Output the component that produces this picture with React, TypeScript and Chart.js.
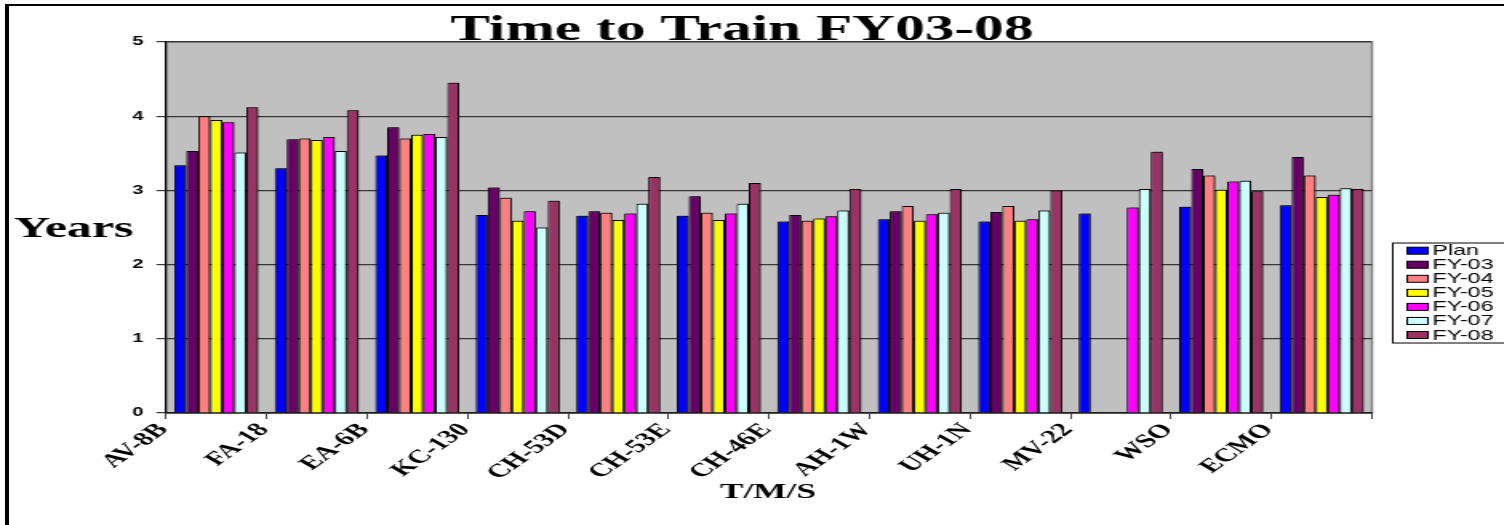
import React, { useEffect, useRef } from "react";
import { Chart, registerables } from "chart.js";

Chart.register(...registerables);

const categories = ["AV-8B", "FA-18", "EA-6B", "KC-130", "CH-53D", "CH-53E", "CH-46E", "AH-1W", "UH-1N", "MV-22", "WSO", "ECMO"];
const seriesNames = ["Plan", "FY-03", "FY-04", "FY-05", "FY-06", "FY-07", "FY-08"];
const seriesColors = ["#0000FF", "#660066", "#FF8080", "#FFFF00", "#FF00FF", "#CCFFFF", "#993366"];
const plan = [3.34, 3.30, 3.47, 2.67, 2.66, 2.66, 2.58, 2.61, 2.58, 2.69, 2.78, 2.80];
const fy03 = [3.53, 3.69, 3.85, 3.04, 2.72, 2.92, 2.67, 2.72, 2.71, null, 3.29, 3.45];
const fy04 = [4.00, 3.70, 3.70, 2.90, 2.70, 2.70, 2.59, 2.79, 2.79, null, 3.20, 3.20];
const fy05 = [3.95, 3.68, 3.75, 2.59, 2.60, 2.60, 2.62, 2.59, 2.59, null, 3.01, 2.91];
const fy06 = [3.92, 3.72, 3.76, 2.72, 2.69, 2.69, 2.65, 2.68, 2.61, 2.77, 3.12, 2.94];
const fy07 = [3.51, 3.53, 3.72, 2.50, 2.82, 2.82, 2.73, 2.70, 2.73, 3.02, 3.13, 3.03];
const fy08 = [4.12, 4.08, 4.45, 2.86, 3.18, 3.10, 3.02, 3.02, 3.00, 3.52, 2.99, 3.02];
const yMin = 0;
const yMax = 5;
const yStep = 1;

const titleText = "Time to Train FY03-08";
const yTitleText = "Years";
const xTitleText = "T/M/S";

const SX = 1.6; // horizontal stretch of the whole picture
const W = 1504;
const H = 525;
const CW = W / SX;

const seriesValues = [plan, fy03, fy04, fy05, fy06, fy07, fy08];

function stretchedText(ctx: any, text: string, x: number, y: number, k: number, align: string) {
  ctx.save();
  ctx.translate(x, y);
  ctx.scale(k, 1);
  ctx.textAlign = align;
  ctx.fillText(text, 0, 0);
  ctx.restore();
}

const decorPlugin = {
  id: "decor",
  beforeDraw(chart: any) {
    const { ctx, chartArea } = chart;
    const { left, top, right, bottom } = chartArea;
    ctx.save();
    ctx.fillStyle = "#C0C0C0";
    ctx.fillRect(left, top, right - left, bottom - top);
    ctx.strokeStyle = "#808080";
    ctx.lineWidth = 1.5;
    ctx.strokeRect(left, top, right - left, bottom - top);
    ctx.restore();
  },
  beforeDatasetsDraw(chart: any) {
    const { ctx } = chart;
    ctx.save();
    ctx.shadowColor = "rgba(0,0,0,0.45)";
    ctx.shadowOffsetX = 1.5;
    ctx.shadowOffsetY = -1;
    ctx.shadowBlur = 0;
  },
  afterDatasetsDraw(chart: any) {
    chart.ctx.restore();
  },
  afterDraw(chart: any) {
    const { ctx } = chart;
    ctx.save();
    ctx.fillStyle = "#000";
    ctx.textBaseline = "alphabetic";
    // title
    ctx.font = "bold 35px 'Liberation Serif'";
    stretchedText(ctx, titleText, 742 / SX, 40, 1.06, "center");
    // y title
    ctx.font = "bold 29px 'Liberation Serif'";
    stretchedText(ctx, yTitleText, 14 / SX, 237, 1.08, "left");
    // x title
    ctx.font = "bold 22px 'Liberation Serif'";
    stretchedText(ctx, xTitleText, 768 / SX, 498, 1.0, "center");

    // legend
    const lx = 1392 / SX;
    const ly = 242.5;
    const lh = 100;
    ctx.strokeStyle = "#000";
    ctx.lineWidth = 1;
    ctx.fillStyle = "#fff";
    ctx.fillRect(lx, ly, CW - lx + 5, lh);
    ctx.strokeRect(lx + 0.5, ly + 0.5, CW - lx + 5, lh);
    ctx.font = "14.5px 'Liberation Sans'";
    ctx.textAlign = "left";
    ctx.textBaseline = "middle";
    chart.data.datasets.forEach((ds: any, i: number) => {
      const cy = 250.7 + i * 14.05;
      ctx.fillStyle = ds.backgroundColor;
      ctx.fillRect(879.5, cy - 3.5, 13, 7);
      ctx.strokeStyle = "#000";
      ctx.strokeRect(879.5, cy - 3.5, 13, 7);
      ctx.fillStyle = "#000";
      ctx.fillText(ds.label, 1432.5 / SX, cy + 0.5);
    });
    ctx.restore();
  },
};

export default function App() {
  const ref = useRef<HTMLCanvasElement>(null);
  useEffect(() => {
    document.body.style.margin = "0";
    const canvas = ref.current!;
    const chart = new Chart(canvas, {
      type: "bar",
      data: {
        labels: categories,
        datasets: seriesNames.map((name, i) => ({
          label: name,
          data: seriesValues[i],
          backgroundColor: seriesColors[i],
          borderColor: "#000",
          borderWidth: 1,
          categoryPercentage: 0.836,
          barPercentage: 1,
        })),
      },
      options: {
        responsive: false,
        animation: false,
        devicePixelRatio: 1,
        layout: { padding: { left: 0, right: CW - 1372 / SX, top: 42, bottom: 30 } },
        plugins: {
          legend: { display: false },
          title: { display: false },
          tooltip: { enabled: false },
        },
        scales: {
          x: {
            grid: { offset: true, drawOnChartArea: false, drawTicks: true, tickLength: 6, color: "#404040" },
            border: { color: "#202020", width: 1.5 },
            ticks: {
              autoSkip: false,
              minRotation: 48,
              maxRotation: 48,
              padding: 0,
              labelOffset: -33,
              color: "#000",
              font: { family: "'Liberation Serif'", weight: "bold", size: 19 },
            },
            afterFit: (s: any) => {
              s.height = 525 - 30 - 413;
            },
          },
          y: {
            min: yMin,
            max: yMax,
            ticks: {
              stepSize: yStep,
              padding: 8,
              color: "#000",
              font: { family: "'Liberation Sans'", weight: "bold", size: 12.5 },
            },
            grid: { color: "#383838", tickLength: 6, lineWidth: 1.2 },
            border: { color: "#000", width: 1.2 },
            afterFit: (s: any) => {
              s.width = 166 / SX;
            },
          },
        },
      },
      plugins: [decorPlugin],
    } as any);
    return () => chart.destroy();
  }, []);
  return (
    <div style={{ position: "relative", width: W, height: H, overflow: "hidden", background: "#fff" }}>
      <canvas ref={ref} width={CW} height={H} style={{ width: `${W}px`, height: `${H}px`, display: "block" }} />
      <div
        style={{
          position: "absolute",
          left: 5,
          top: 4,
          right: -10,
          bottom: -10,
          borderLeft: "4px solid #000",
          borderTop: "2px solid #000",
          pointerEvents: "none",
        }}
      />
    </div>
  );
}
